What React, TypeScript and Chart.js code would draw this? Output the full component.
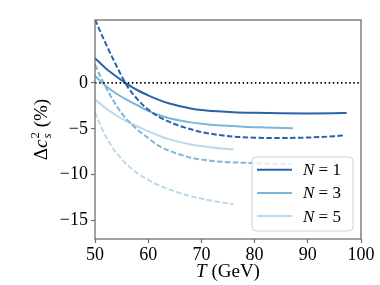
import React, { useEffect, useRef } from "react";
import { Chart, registerables } from "chart.js";
Chart.register(...registerables);

const xTicks = [50, 60, 70, 80, 90, 100];
const yTicks = [-15, -10, -5, 0];

const tN1Solid = [50, 52, 54, 56, 58, 60, 62, 64, 66, 68, 70, 73, 76, 80, 85, 90, 95, 97.3];
const n1Solid = [2.7, 1.6, 0.7, -0.1, -0.8, -1.35, -1.85, -2.25, -2.55, -2.78, -2.95, -3.1, -3.2, -3.26, -3.3, -3.32, -3.3, -3.27];

const tN1Dash = [50, 52, 54, 56, 58, 60, 62, 64, 66, 68, 70, 73, 76, 80, 85, 90, 95, 97];
const n1Dash = [6.9, 4.3, 1.9, -0.3, -1.8, -2.9, -3.7, -4.25, -4.7, -5.05, -5.35, -5.65, -5.85, -5.97, -6.0, -5.95, -5.8, -5.7];

const tN3Solid = [50, 52, 54, 56, 58, 60, 62, 64, 66, 68, 70, 74, 78, 82, 87.2];
const n3Solid = [0.75, -0.3, -1.15, -1.85, -2.45, -3.05, -3.5, -3.85, -4.1, -4.3, -4.45, -4.65, -4.78, -4.86, -4.95];

const tN3Dash = [50, 51.6, 53, 55, 56.6, 58, 60, 62, 64, 66, 68, 70, 74, 79, 83, 87];
const n3Dash = [2.0, 0, -1.5, -3.3, -4.35, -5.1, -6.0, -6.85, -7.4, -7.8, -8.15, -8.35, -8.6, -8.72, -8.8, -8.85];

const tN5Solid = [50, 52, 54, 56, 58, 60, 62, 64, 66, 68, 70, 73, 76];
const n5Solid = [-1.8, -2.75, -3.55, -4.2, -4.75, -5.25, -5.75, -6.15, -6.45, -6.7, -6.88, -7.1, -7.25];

const tN5Dash = [50, 51, 52, 53, 54, 56, 58, 60, 62, 64, 66, 68, 70, 73, 76];
const n5Dash = [-3.2, -4.6, -5.8, -6.8, -7.6, -8.9, -9.85, -10.55, -11.15, -11.6, -12.0, -12.35, -12.6, -12.95, -13.2];

const zeroT = [50, 100];
const zeroY = [0, 0];

const legendLabels = ["1", "3", "5"];
const colors = ["#2a64a8", "#7db5d9", "#bcd9ea"];

const SERIF = '"Liberation Serif", "DejaVu Serif", serif';

const pts = (xs: number[], ys: number[]) => xs.map((x, i) => ({ x, y: ys[i] }));

const decorPlugin = {
  id: "decor",
  afterDraw(chart: any) {
    const ctx = chart.ctx;
    const a = chart.chartArea;
    ctx.save();
    // frame
    ctx.strokeStyle = "#6e6e6e";
    ctx.lineWidth = 1.3;
    ctx.strokeRect(a.left, a.top, a.right - a.left, a.bottom - a.top);

    // legend
    const bw = 101, bh = 74;
    const bx = a.right - 8 - bw, by = a.bottom - 8 - bh;
    ctx.beginPath();
    (ctx as any).roundRect(bx, by, bw, bh, 4);
    ctx.fillStyle = "rgba(255,255,255,0.8)";
    ctx.fill();
    ctx.strokeStyle = "#d0d0d0";
    ctx.lineWidth = 1;
    ctx.stroke();
    legendLabels.forEach((lab, i) => {
      const yy = by + 12.7 + i * 23.2;
      ctx.strokeStyle = colors[i];
      ctx.lineWidth = 2;
      ctx.setLineDash([]);
      ctx.beginPath();
      ctx.moveTo(bx + 5, yy);
      ctx.lineTo(bx + 40, yy);
      ctx.stroke();
      ctx.fillStyle = "#000";
      ctx.textBaseline = "middle";
      ctx.textAlign = "left";
      let x = bx + 51;
      ctx.font = `italic 17px ${SERIF}`;
      ctx.fillText("N", x, yy + 1);
      x += ctx.measureText("N").width;
      ctx.font = `17px ${SERIF}`;
      ctx.fillText(" = " + lab, x, yy + 1);
    });

    // x title
    ctx.textBaseline = "alphabetic";
    ctx.fillStyle = "#000";
    const xParts = [
      { t: "T", f: `italic 19px ${SERIF}` },
      { t: " (GeV)", f: `19px ${SERIF}` },
    ];
    let total = 0;
    xParts.forEach((p) => { ctx.font = p.f; total += ctx.measureText(p.t).width; });
    let cx = (a.left + a.right) / 2 - total / 2;
    xParts.forEach((p) => { ctx.font = p.f; ctx.fillText(p.t, cx, 277); cx += ctx.measureText(p.t).width; });

    // y title
    ctx.translate(46.5, (a.top + a.bottom) / 2);
    ctx.rotate(-Math.PI / 2);
    const big = `19px ${SERIF}`;
    const bigI = `italic 19px ${SERIF}`;
    const small = `13px ${SERIF}`;
    const smallI = `italic 13px ${SERIF}`;
    const w = (t: string, f: string) => { ctx.font = f; return ctx.measureText(t).width; };
    const wD = w("Δ", big), wc = w("c", bigI), w2 = w("2", small), wS = w("s", smallI), wP = w(" (%)", big);
    const tw = wD + wc + Math.max(w2, wS) + 1 + wP;
    let px = -tw / 2;
    ctx.font = big; ctx.fillText("Δ", px, 0); px += wD;
    ctx.font = bigI; ctx.fillText("c", px, 0); px += wc + 1;
    ctx.font = small; ctx.fillText("2", px, -8);
    ctx.font = smallI; ctx.fillText("s", px, 4);
    px += Math.max(w2, wS);
    ctx.font = big; ctx.fillText(" (%)", px, 0);
    ctx.restore();
  },
};

export default function App() {
  const ref = useRef<HTMLCanvasElement | null>(null);
  useEffect(() => {
    if (!ref.current) return;
    const ds = (data: any, color: string, dash: number[], width = 2) => ({
      data,
      borderColor: color,
      backgroundColor: color,
      borderWidth: width,
      borderDash: dash,
      pointRadius: 0,
      fill: false,
      cubicInterpolationMode: "monotone",
    });
    const dashed = [5.5, 2.4];
    const chart = new Chart(ref.current, {
      type: "line",
      data: {
        datasets: [
          ds(pts(zeroT, zeroY), "#000000", [1.5, 2.6], 1.6),
          ds(pts(tN1Solid, n1Solid), colors[0], []),
          ds(pts(tN1Dash, n1Dash), colors[0], dashed),
          ds(pts(tN3Solid, n3Solid), colors[1], []),
          ds(pts(tN3Dash, n3Dash), colors[1], dashed),
          ds(pts(tN5Solid, n5Solid), colors[2], []),
          ds(pts(tN5Dash, n5Dash), colors[2], dashed),
        ] as any,
      },
      options: {
        animation: false,
        responsive: false,
        devicePixelRatio: 1,
        layout: { padding: { left: 0, top: 20, right: 19, bottom: 0 } },
        plugins: { legend: { display: false }, tooltip: { enabled: false } },
        scales: {
          x: {
            type: "linear",
            min: 50,
            max: 100,
            afterBuildTicks: (s: any) => { s.ticks = xTicks.map((v) => ({ value: v })); },
            afterFit: (s: any) => { s.height = 46; },
            grid: { drawOnChartArea: false, drawTicks: true, tickLength: 4, tickColor: "#6e6e6e", tickWidth: 1.2 },
            border: { display: false },
            ticks: { color: "#000", font: { family: SERIF, size: 18 }, padding: 1, maxRotation: 0 },
          },
          y: {
            type: "linear",
            min: -17,
            max: 6.85,
            afterBuildTicks: (s: any) => { s.ticks = yTicks.map((v) => ({ value: v })); },
            afterFit: (s: any) => { s.width = 95; },
            grid: { drawOnChartArea: false, drawTicks: true, tickLength: 4, tickColor: "#6e6e6e", tickWidth: 1.2 },
            border: { display: false },
            ticks: {
              color: "#000",
              font: { family: SERIF, size: 18 },
              padding: 3,
              callback: (v: any) => (v < 0 ? "\u2212" + Math.abs(v) : String(v)),
            },
          },
        },
      },
      plugins: [decorPlugin],
    } as any);
    return () => chart.destroy();
  }, []);
  return (
    <div style={{ position: "absolute", left: 0, top: 0, width: 380, height: 285, background: "#fff" }}>
      <canvas ref={ref} width={380} height={285} style={{ width: 380, height: 285 }} />
    </div>
  );
}
